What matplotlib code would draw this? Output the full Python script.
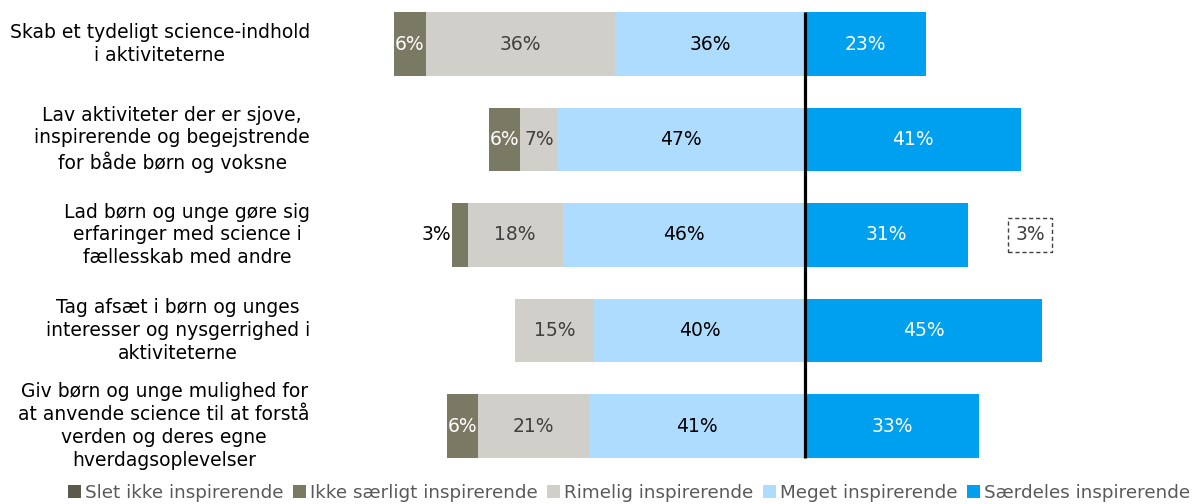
import matplotlib
matplotlib.use("Agg")
import matplotlib.pyplot as plt
from matplotlib.patches import Patch
import matplotlib.transforms as mtransforms

plt.rcParams['font.family'] = ['DejaVu Sans']

categories = [
    "Skab et tydeligt science-indhold\ni aktiviteterne",
    "Lav aktiviteter der er sjove,\ninspirerende og begejstrende\nfor både børn og voksne",
    "Lad børn og unge gøre sig\nerfaringer med science i\nfællesskab med andre",
    "Tag afsæt i børn og unges\ninteresser og nysgerrighed i\naktiviteterne",
    "Giv børn og unge mulighed for\nat anvende science til at forstå\nverden og deres egne\nhverdagsoplevelser",
]
series_names = ["Slet ikke inspirerende", "Ikke særligt inspirerende",
                "Rimelig inspirerende", "Meget inspirerende", "Særdeles inspirerende"]
slet_ikke = [0, 0, 0, 0, 0]
ikke_saerligt = [6, 6, 3, 0, 6]
rimelig = [36, 7, 18, 15, 21]
meget = [36, 47, 46, 40, 41]
saerdeles = [23, 41, 31, 45, 33]
ved_ikke = [0, 0, 3, 0, 0]

colors = ["#5c5b4b", "#7a7964", "#d0cfca", "#addcfe", "#00a0f0"]
label_colors = ["white", "white", "#404040", "black", "white"]

W, H = 1195, 504
fig = plt.figure(figsize=(W / 100, H / 100), dpi=100)

# axes placement in pixels
ax_left, ax_right = 320, 1190
ax_top, ax_bottom = 0, 470
ax = fig.add_axes([ax_left / W, 1 - ax_bottom / H, (ax_right - ax_left) / W, (ax_bottom - ax_top) / H])

px_per_pct = 5.27
zero_px = 805
ax.set_xlim((ax_left - zero_px) / px_per_pct, (ax_right - zero_px) / px_per_pct)
row_px = 95.5
first_px = 44
ax.set_ylim((ax_bottom - first_px) / row_px, (ax_top - first_px) / row_px)

bar_h = 0.66
y = list(range(len(categories)))

left_series = [meget, rimelig, ikke_saerligt, slet_ikke]
left_idx = [3, 2, 1, 0]
fs = 13.5

for i in y:
    pos = 0
    for vals, k in zip(left_series, left_idx):
        v = vals[i]
        if v <= 0:
            continue
        ax.barh(i, -v, left=-pos, height=bar_h, color=colors[k], edgecolor="none")
        cx = -pos - v / 2
        if v < 4:
            ax.text(-pos - v - 0.2, i, f"{v}%", ha="right", va="center",
                    fontsize=fs, color="black")
        else:
            ax.text(cx, i, f"{v}%", ha="center", va="center",
                    fontsize=fs, color=label_colors[k])
        pos += v
    v = saerdeles[i]
    ax.barh(i, v, left=0, height=bar_h, color=colors[4], edgecolor="none")
    ax.text(v / 2, i, f"{v}%", ha="center", va="center", fontsize=fs, color=label_colors[4])
    if ved_ikke[i] > 0:
        ax.text(42.7, i, f"{ved_ikke[i]}%", ha="center", va="center", fontsize=fs,
                color="#404040",
                bbox=dict(boxstyle="square,pad=0.4", facecolor="white",
                          edgecolor="#404040", linestyle=(0, (3, 2)), linewidth=1))

# center divider
ax.plot([0, 0], [(12 - first_px) / row_px, (458 - first_px) / row_px],
        color="black", linewidth=2.3, solid_capstyle="butt")

# category labels
trans = mtransforms.blended_transform_factory(fig.transFigure, ax.transData)
for i, c in enumerate(categories):
    ax.text(310 / W, i, c, transform=trans, ha="right", va="center",
            multialignment="center", fontsize=fs, color="black", linespacing=1.25)

ax.axis("off")

handles = [Patch(facecolor=c, edgecolor="none") for c in colors]
leg = fig.legend(handles, series_names, loc="center right",
                 bbox_to_anchor=(1190 / W, 1 - 493 / H),
                 ncol=5, frameon=False, fontsize=13.2, handlelength=0.7, handleheight=0.7,
                 handletextpad=0.2, columnspacing=0.55, borderaxespad=0, borderpad=0)
for t in leg.get_texts():
    t.set_color("#595959")

fig.savefig("out.png", dpi=100)
